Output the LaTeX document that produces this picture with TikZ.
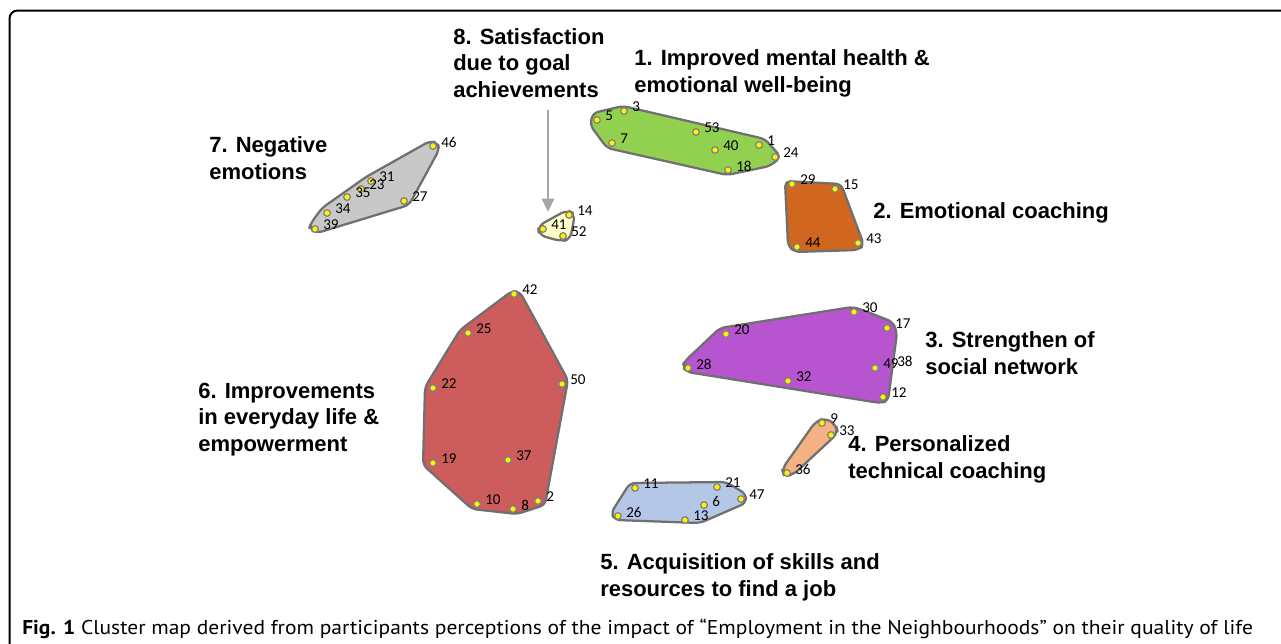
\documentclass[tikz,border=0pt]{standalone}
\usepackage{graphicx}
\usepackage{fontspec}
\setmainfont{Liberation Sans}
\newfontfamily\numfont{Carlito}
\newfontfamily\capfont{PT Sans}
\usetikzlibrary{arrows.meta}

\definecolor{edgegray}{RGB}{112,112,112}
\definecolor{dotgray}{RGB}{128,128,128}
\definecolor{arrowgray}{RGB}{166,166,166}
\definecolor{cgreen}{RGB}{146,208,80}
\definecolor{corange}{RGB}{209,103,31}
\definecolor{cpurple}{RGB}{183,84,208}
\definecolor{csalmon}{RGB}{244,177,131}
\definecolor{cblue}{RGB}{180,199,231}
\definecolor{cred}{RGB}{205,92,92}
\definecolor{cgray}{RGB}{200,200,200}
\definecolor{cyellow}{RGB}{255,255,200}

\begin{document}
\begin{tikzpicture}[x=0.75pt,y=-0.75pt,
  hull/.style={draw=edgegray, line width=1.7pt, rounded corners=4pt, line join=round},
  pt/.style={circle, draw=dotgray, fill=yellow, line width=0.9pt, inner sep=0pt, minimum size=5pt},
  num/.style={anchor=west, inner sep=0pt, font=\numfont\fontsize{11.3}{13}\selectfont},
  title/.style={anchor=base west, inner sep=0pt, align=left, font=\bfseries\fontsize{16.5}{19.7}\selectfont},
  frame/.style={draw=black, line width=1.5pt, rounded corners=6pt}
]
\useasboundingbox (0,0) rectangle (1281,643);
\begin{scope}
\clip (0,0) rectangle (1281,643);
\draw[frame] (9.5,700) |- (1300,10.5);
\end{scope}

% cluster outlines
\draw[hull, fill=cgray] (430,141) -- (438,143) -- (439,150) -- (409,205) -- (317,233)
  -- (309,229) -- (311,223) -- (322,208) -- (366,177) -- cycle;
\draw[hull, fill=cyellow, rounded corners=5pt] (567,210) -- (575,214) -- (570,240) -- (560,241)
  -- (539,235) -- (538,226) -- cycle;
\draw[hull, fill=cgreen] (593,113) -- (623,106) -- (765,139) -- (781,157) -- (770,166)
  -- (727,175) -- (607,148) -- (590,125) -- cycle;
\draw[hull, fill=corange] (785,181) -- (841,184) -- (864,245) -- (858,250) -- (795,252)
  -- (788,246) -- cycle;
\draw[hull, fill=cred] (512,291) -- (520,292) -- (568,380) -- (545,505) -- (517,514)
  -- (472,509) -- (423,465) -- (425,387) -- (460,330) -- cycle;
\draw[hull, fill=cpurple] (720,328) -- (852,307) -- (860,309) -- (893,322) -- (897,333)
  -- (888,401) -- (880,403) -- (687,372) -- (682,366) -- (686,360) -- cycle;
\draw[hull, fill=csalmon, rounded corners=5pt] (816,421) -- (826,418) -- (836,425) -- (838,433)
  -- (793,475) -- (784,476) -- (782,469) -- cycle;
\draw[hull, fill=cblue] (630,483) -- (726,482) -- (746,494) -- (746,503) -- (700,523)
  -- (615,520) -- (611,513) -- cycle;

% statement points with their numbers
\foreach \n/\x/\y in {46/433/146, 31/371/181, 23/361/189, 35/347/197, 34/327/213,
    39/315/229, 27/404/201,
    14/569/215, 41/543/229, 52/563/236,
    3/624/111, 5/597/120, 53/696/132, 7/612/143, 40/715/150, 1/759/145, 24/775/157, 18/728/170,
    29/792/184, 15/835/189, 44/797/247, 43/858/243,
    42/514/294, 25/468/333, 22/433/388, 50/562/384, 19/433/463, 37/508/460, 10/477/504,
    8/513/509, 2/538/501,
    30/854/312, 17/887/328, 20/726/334, 28/688/368, 49/875/368, 32/788/381, 12/883/397,
    9/822/423, 33/831/435, 36/787/473,
    11/635/488, 21/717/487, 47/741/499, 6/704/505, 26/618/516, 13/685/520}
{
  \node[pt] (p\n) at (\x,\y) {};
  \node[num] (n\n) at (\x+8,\y-4) {\n};
}
\node[num] (n38) at (897,361) {38};

% arrow from the satisfaction heading to its cluster
\coordinate (arrtop) at (548,110);
\coordinate (arrtip) at (548,212);
\draw[arrowgray, line width=2.2pt, -{Triangle[width=9pt,length=10pt]}] (arrtop) -- (arrtip);

% cluster headings (anchored at the baseline of their last line)
\node[title] (t8) at (453,97) {8. Satisfaction\\due to goal\\achievements};
\node[title] (t1) at (634,92) {1. Improved mental health \&\\emotional well-being};
\node[title] (t7) at (209,179) {7. Negative\\emotions};
\node[title] (t2) at (873,218) {2. Emotional coaching};
\node[title] (t3) at (925,374) {3. Strengthen of\\social network};
\node[title] (t6) at (198,451) {6. Improvements\\in everyday life \&\\empowerment};
\node[title] (t4) at (848,478) {4. Personalized\\technical coaching};
\node[title] (t5) at (600,596) {5. Acquisition of skills and\\resources to find a job};

% caption
\node[anchor=base west, inner sep=0pt] (cap) at (22,634)
  {\resizebox{923pt}{\height}{\capfont\fontsize{15}{17}\selectfont\textbf{Fig. 1} Cluster map derived from participants perceptions of the impact of “Employment in the Neighbourhoods” on their quality of life}};
\end{tikzpicture}
\end{document}
